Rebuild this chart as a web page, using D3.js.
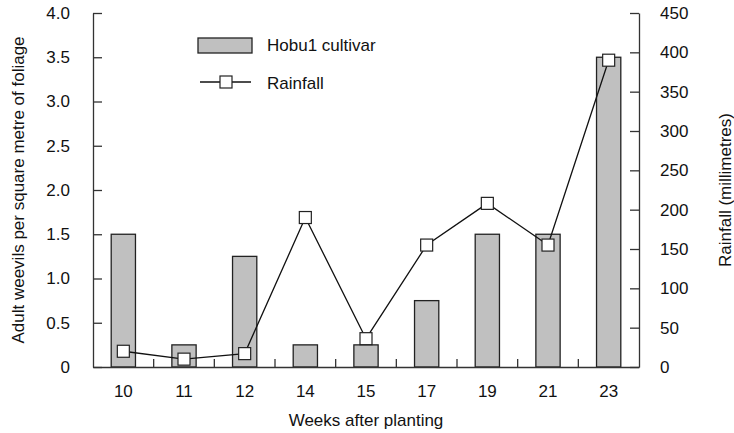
<!DOCTYPE html>
<html>
<head>
<meta charset="utf-8">
<script src="https://cdn.jsdelivr.net/npm/d3@7"></script>
<style>
  body { margin: 0; background: #fff; }
  text { font-family: "Liberation Sans", Arial, sans-serif; fill: #111; }
</style>
</head>
<body>
<div id="chart"></div>
<script>
// weeks after planting
const weeks = ["10", "11", "12", "14", "15", "17", "19", "21", "23"];
// adult weevils per square metre of foliage (Hobu1 cultivar)
const weevils = [1.5, 0.25, 1.25, 0.25, 0.25, 0.75, 1.5, 1.5, 3.5];
// rainfall in millimetres
const rainfall = [20, 10, 17, 190, 36, 155, 208, 155, 390];

const leftTicks = [0, 0.5, 1, 1.5, 2, 2.5, 3, 3.5, 4];
const rightTicks = [0, 50, 100, 150, 200, 250, 300, 350, 400, 450];

const width = 734;
const height = 433;
const margin = {top: 13, right: 95, bottom: 66, left: 93};
const w = width - margin.left - margin.right;
const h = height - margin.top - margin.bottom;
const fs = 17;

var svg = d3.select("#chart")
	.append("svg")
	.attr("width", width)
	.attr("height", height);

var g = svg.append("g")
	.attr("transform", `translate(${margin.left},${margin.top})`);

var x = d3.scaleBand().domain(weeks).range([0, w]).padding(0);
var yLeft = d3.scaleLinear().domain([0, 4]).range([h, 0]);
var yRight = d3.scaleLinear().domain([0, 450]).range([h, 0]);

// bars
var barW = x.bandwidth() * 0.4;
g.selectAll("rect.bar")
	.data(weeks)
	.enter()
	.append("rect")
	.attr("class", "bar")
	.attr("x", (d) => x(d) + (x.bandwidth() - barW) / 2)
	.attr("y", (d, i) => yLeft(weevils[i]))
	.attr("width", barW)
	.attr("height", (d, i) => h - yLeft(weevils[i]))
	.attr("fill", "#c0c0c0")
	.attr("stroke", "#222")
	.attr("stroke-width", 1.3);

// rainfall line
var line = d3.line()
	.x((d, i) => x(weeks[i]) + x.bandwidth() / 2)
	.y((d) => yRight(d));

g.append("path")
	.datum(rainfall)
	.attr("d", line)
	.attr("fill", "none")
	.attr("stroke", "#111")
	.attr("stroke-width", 1.3);

const sq = 12;
g.selectAll("rect.mark")
	.data(rainfall)
	.enter()
	.append("rect")
	.attr("class", "mark")
	.attr("x", (d, i) => x(weeks[i]) + x.bandwidth() / 2 - sq / 2)
	.attr("y", (d) => yRight(d) - sq / 2)
	.attr("width", sq)
	.attr("height", sq)
	.attr("fill", "#fff")
	.attr("stroke", "#222")
	.attr("stroke-width", 1.2);

// axes
function styleAxis(sel) {
	sel.selectAll("path, line").attr("stroke", "#333").attr("stroke-width", 1.3);
	sel.selectAll("text").attr("font-size", fs).attr("fill", "#111")
		.attr("font-family", "'Liberation Sans', Arial, sans-serif");
}

g.append("g")
	.call(d3.axisLeft(yLeft).tickValues(leftTicks).tickSize(-9).tickSizeOuter(0).tickPadding(23)
		.tickFormat((d) => d === 0 ? "0" : d3.format(".1f")(d)))
	.call(styleAxis);

g.append("g")
	.attr("transform", `translate(${w},0)`)
	.call(d3.axisRight(yRight).tickValues(rightTicks).tickSize(-9).tickSizeOuter(0).tickPadding(21))
	.call(styleAxis);

g.append("g")
	.attr("transform", `translate(0,${h})`)
	.call(d3.axisBottom(x).tickSize(0).tickPadding(18))
	.call(styleAxis);

// ticks between categories, pointing up
g.selectAll("line.sep")
	.data(weeks.slice(1))
	.enter()
	.append("line")
	.attr("class", "sep")
	.attr("x1", (d) => x(d))
	.attr("x2", (d) => x(d))
	.attr("y1", h)
	.attr("y2", h - 8)
	.attr("stroke", "#333")
	.attr("stroke-width", 1.3);

// axis titles
svg.append("text")
	.attr("x", margin.left + w / 2)
	.attr("y", 426)
	.attr("text-anchor", "middle")
	.attr("font-size", fs)
	.text("Weeks after planting");

svg.append("text")
	.attr("transform", `translate(24,${margin.top + h / 2}) rotate(-90)`)
	.attr("text-anchor", "middle")
	.attr("font-size", fs)
	.text("Adult weevils per square metre of foliage");

svg.append("text")
	.attr("transform", `translate(731,${margin.top + h / 2}) rotate(-90)`)
	.attr("text-anchor", "middle")
	.attr("font-size", fs)
	.text("Rainfall (millimetres)");

// legend
var lg = svg.append("g");
lg.append("rect")
	.attr("x", 198).attr("y", 38).attr("width", 54).attr("height", 15)
	.attr("fill", "#c0c0c0").attr("stroke", "#222").attr("stroke-width", 1.3);
lg.append("text").attr("x", 267).attr("y", 51).attr("font-size", fs).text("Hobu1 cultivar");
lg.append("line")
	.attr("x1", 200).attr("x2", 251).attr("y1", 82).attr("y2", 82)
	.attr("stroke", "#111").attr("stroke-width", 1.3);
lg.append("rect")
	.attr("x", 226 - sq / 2).attr("y", 82 - sq / 2).attr("width", sq).attr("height", sq)
	.attr("fill", "#fff").attr("stroke", "#222").attr("stroke-width", 1.2);
lg.append("text").attr("x", 267).attr("y", 89).attr("font-size", fs).text("Rainfall");
</script>
</body>
</html>
